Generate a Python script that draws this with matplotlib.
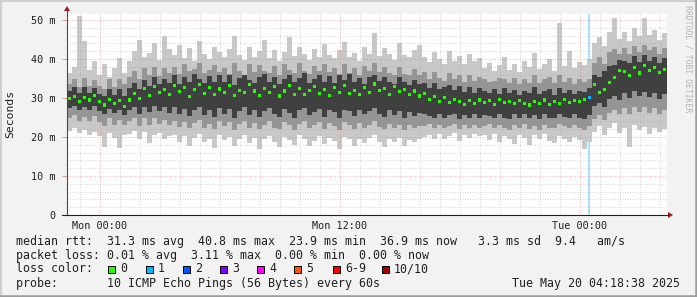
import numpy as np
import matplotlib
matplotlib.use('Agg')
import matplotlib.pyplot as plt
from matplotlib.patches import Rectangle, Polygon
from matplotlib.lines import Line2D

# ---------------- data ----------------
start_h = -1.625      # hours relative to Mon 00:00 at the left edge
step_h = 0.25         # one sample every 15 minutes

median = [29.8, 30.4, 29.2, 30.1, 29.5, 30.6, 29.0, 28.2, 29.6, 28.6,
          29.3, 27.8, 29.5, 31.2, 29.8, 32.4, 30.6, 33.0, 31.4, 32.2,
          30.8, 33.2, 31.6, 32.8, 30.4, 32.1, 33.5, 31.2, 32.6, 30.9,
          32.3, 31.5, 33.1, 30.6, 32.0, 31.4, 33.4, 31.8, 30.7, 32.5,
          31.3, 32.9, 30.5, 31.8, 33.2, 31.0, 32.4, 30.8, 31.9, 33.0,
          31.2, 32.2, 30.6, 32.7, 31.5, 33.3, 31.1, 32.0, 30.9, 32.6,
          31.4, 33.6, 31.9, 32.4, 30.8, 33.0, 31.6, 32.2, 30.9, 31.8,
          30.5, 31.2, 29.6, 30.4, 29.2, 30.1, 28.8, 29.7, 29.0, 28.4,
          29.3, 28.6, 29.5, 28.9, 29.4, 28.3, 29.6, 28.8, 29.2, 28.5,
          29.4, 28.7, 28.2, 29.1, 28.6, 29.5, 28.4, 29.2, 28.7, 29.6,
          28.9, 29.4, 29.1, 29.6, 30.2, 33.5, 31.5, 32.2, 34.0, 35.2,
          37.0, 36.8, 35.7, 37.9, 36.4, 38.3, 37.1, 37.8, 36.6, 37.4]

p_max = [36.5, 38.0, 51.0, 44.5, 37.2, 39.5, 36.0, 38.8, 35.5, 37.6, 40.2, 36.4,
         39.5, 42.0, 45.0, 40.5, 41.5, 44.0, 39.8, 46.0, 42.5,
         41.0, 43.5, 40.2, 42.8, 39.6, 44.5, 41.2, 40.0, 43.0, 41.8,
         40.4, 42.6, 46.0, 41.0, 39.8, 43.2, 40.6, 42.0, 44.8, 40.2,
         42.4, 39.6, 41.8, 45.6, 40.8, 43.0, 41.4, 39.8, 42.6, 40.6,
         43.8, 41.0, 40.2, 42.2, 44.4, 40.6, 41.6, 39.4, 43.2, 41.2,
         46.6, 40.8, 42.8, 41.4, 39.8, 44.0, 41.0, 40.4, 42.4, 43.6,
         40.6, 39.2, 41.8, 40.0, 38.6, 42.0, 39.4, 40.8, 38.8, 41.2, 39.6, 40.2,
         37.6, 39.0, 36.8, 38.4, 40.6, 37.2, 38.8, 36.6, 39.4, 38.0, 41.6,
         37.4, 38.6, 40.0, 37.0, 49.2, 38.2, 42.0, 37.8, 39.2, 38.4,
         40.0,
         44.0, 45.6, 43.4, 47.0, 50.4, 45.2, 46.8, 44.6, 48.0, 45.8, 50.6,
         46.2, 47.4, 45.0, 46.6]

p_hi2 = [33.6, 35.0, 32.8, 35.2, 33.0, 34.6, 33.2, 32.4, 34.8, 32.8, 35.0, 33.6,
         35.4, 36.8, 34.8, 37.6, 36.0, 38.0, 35.6, 37.8, 36.4,
         38.0, 36.2, 38.6, 36.8, 37.4, 39.0, 36.4, 37.2, 38.4, 36.6,
         37.8, 36.2, 39.0, 37.0, 36.0, 38.6, 36.6, 38.4, 37.0, 36.4,
         38.2, 36.0, 38.8, 37.2, 36.4, 39.0, 36.8, 36.2, 38.2, 36.8,
         38.8, 36.6, 37.6, 36.2, 38.6, 36.4, 37.8, 36.0, 38.2, 37.0,
         39.0, 36.6, 38.0, 36.4, 36.0, 38.0, 36.2, 35.8, 37.4, 36.0,
         36.6, 35.0, 36.6, 35.2, 34.4, 36.4, 34.8, 36.0, 34.2, 35.8, 34.4, 35.4,
         34.8, 34.2, 34.4, 35.2, 34.8, 33.8, 35.2, 33.6, 35.0, 33.8, 35.8,
         33.8, 34.8, 35.4, 33.8, 36.0, 34.0, 35.2, 33.6, 35.0, 34.0,
         35.0,
         39.0, 40.4, 38.8, 41.8, 42.6, 41.2, 42.8, 41.2, 43.4, 41.8, 43.6,
         42.2, 43.2, 41.4, 42.8]

p_hi3 = [31.8, 32.8, 31.2, 32.8, 31.4, 32.6, 31.0, 30.6, 32.4, 30.8, 32.2, 30.6,
         32.6, 33.8, 32.4, 34.6, 33.2, 35.4, 33.6, 35.0, 33.8,
         35.8, 33.6, 35.4, 34.0, 36.2, 35.0, 33.8, 35.6, 34.2, 36.0,
         34.0, 35.8, 33.4, 35.2, 36.0, 34.6, 33.8, 35.4, 36.2, 34.2,
         35.4, 33.6, 35.0, 36.0, 34.0, 35.2, 36.4, 33.8, 35.0, 35.8,
         34.0, 35.6, 33.8, 35.8, 34.6, 36.2, 34.0, 35.2, 33.6, 35.4,
         36.0, 34.4, 35.4, 34.0, 33.6, 35.4, 34.0, 33.4, 34.6, 33.6,
         33.8, 32.6, 33.8, 32.4, 32.8, 33.4, 32.0, 33.0, 31.6, 32.8, 31.4, 32.6,
         31.8, 31.4, 32.2, 31.0, 32.6, 31.2, 32.0, 30.8, 31.8, 31.2, 32.8,
         31.0, 31.8, 32.4, 30.8, 32.6, 31.2, 32.0, 31.0, 31.8, 31.6,
         32.6,
         36.0, 35.4, 36.8, 38.2, 38.4, 39.8, 39.6, 39.0, 40.8, 39.2, 41.0,
         39.6, 40.6, 39.0, 40.2]

p_lo3 = [27.4, 28.0, 26.8, 27.8, 27.0, 28.0, 26.6, 26.0, 27.2, 26.2, 27.0, 25.6,
         26.8, 27.6, 25.8, 27.8, 26.4, 28.0, 26.6, 27.6, 26.2,
         27.6, 25.8, 27.2, 25.4, 26.8, 27.8, 25.6, 26.8, 25.2, 27.4,
         26.0, 27.2, 25.0, 26.6, 27.6, 25.6, 26.8, 25.2, 26.6, 27.4,
         25.8, 25.2, 27.2, 26.2, 25.0, 26.8, 27.4, 25.6, 26.4, 27.2,
         25.2, 26.8, 26.4, 25.0, 27.0, 26.6, 25.4, 27.0, 25.8, 26.6,
         27.4, 25.8, 25.2, 26.8, 25.6, 26.6, 25.0, 26.4, 25.4, 26.2,
         25.8, 25.4, 25.0, 26.0, 24.8, 25.6, 26.0, 24.6, 25.6, 24.8, 25.8, 25.0,
         25.6, 25.4, 24.8, 25.8, 25.0, 24.6, 25.8, 25.0, 26.0, 24.8, 25.6,
         24.6, 25.8, 25.0, 24.8, 26.0, 25.2, 24.8, 25.8, 25.0, 24.6,
         25.6,
         28.0, 28.8, 27.8, 29.8, 30.6, 29.6, 31.4, 30.0, 31.8, 30.4, 31.6,
         30.2, 31.4, 29.8, 31.0]

p_lo2 = [24.8, 25.6, 24.2, 25.2, 24.2, 25.4, 23.8, 22.8, 24.8, 23.2, 24.4, 23.0,
         24.0, 24.8, 22.8, 24.8, 23.2, 25.0, 23.4, 24.4, 23.0,
         24.2, 22.6, 23.8, 22.2, 23.6, 24.4, 22.4, 23.4, 22.0, 24.0,
         22.8, 23.8, 21.8, 23.4, 24.2, 22.2, 23.6, 22.0, 23.2, 24.0,
         22.4, 22.0, 23.8, 23.0, 21.8, 23.4, 24.0, 22.2, 23.2, 23.8,
         22.0, 23.6, 22.8, 21.8, 23.8, 23.0, 22.0, 23.6, 22.4, 23.2,
         24.0, 22.6, 22.0, 23.4, 22.4, 23.2, 21.8, 23.0, 22.2, 22.8,
         22.8, 23.4, 22.4, 23.2, 22.2, 22.8, 23.4, 22.0, 23.0, 22.2, 23.2, 22.4,
         22.8, 23.4, 22.2, 23.2, 22.4, 21.8, 23.2, 22.4, 23.4, 22.0, 22.8,
         21.8, 23.2, 22.4, 22.2, 23.4, 22.8, 22.2, 23.2, 22.4, 21.8,
         22.8,
         24.6, 25.6, 24.4, 26.2, 27.0, 25.8, 27.4, 26.0, 27.8, 26.4, 27.6,
         26.2, 27.4, 25.8, 27.0]

p_min = [21.6, 22.2, 21.0, 21.8, 20.6, 21.4, 20.2, 17.4, 21.0, 19.8, 17.2, 20.4,
         20.8, 21.6, 19.6, 21.2, 18.4, 20.6, 21.0, 19.4, 20.2,
         20.6, 18.8, 20.2, 17.6, 19.8, 20.8, 18.6, 19.6, 17.2, 20.4,
         19.2, 20.0, 17.8, 19.6, 20.6, 18.4, 19.8, 17.0, 19.4, 20.2,
         18.6, 17.4, 20.0, 19.2, 18.0, 20.4, 19.6, 17.6, 19.0, 20.2,
         18.2, 19.8, 19.0, 16.8, 20.0, 19.4, 17.8, 19.6, 18.4, 19.8,
         20.4, 18.8, 17.4, 19.6, 18.6, 19.8, 17.6, 19.2, 18.8, 19.6,
         20.0, 20.6, 19.4, 20.8, 19.6, 20.2, 21.0, 19.0, 20.4, 19.8, 20.8, 20.2,
         20.4, 19.2, 20.8, 18.6, 20.2, 19.6, 18.2, 20.6, 19.8, 18.0, 20.4,
         19.4, 20.8, 19.0, 18.4, 20.2, 19.6, 18.8, 20.0, 19.2, 17.0,
         18.6,
         21.4, 22.8, 20.6, 22.2, 23.6, 21.0, 22.4, 17.4, 23.0, 21.8, 22.6,
         20.8, 22.2, 21.2, 22.0]

# packets lost (of 10) per sample
loss = [0] * 104 + [1] + [0] * 15

x_ticks = [0, 12, 24]
x_labels = ['Mon 00:00', 'Mon 12:00', 'Tue 00:00']
y_ticks = [0, 10, 20, 30, 40, 50]
y_labels = ['0', '10 m', '20 m', '30 m', '40 m', '50 m']

legend_rtt = 'median rtt:  31.3 ms avg  40.8 ms max  23.9 ms min  36.9 ms now   3.3 ms sd  9.4   am/s'
legend_loss = 'packet loss: 0.01 % avg  3.11 % max  0.00 % min  0.00 % now'
legend_probe = 'probe:       10 ICMP Echo Pings (56 Bytes) every 60s'
timestamp = 'Tue May 20 04:18:38 2025'
loss_labels = ['0', '1', '2', '3', '4', '5', '6-9', '10/10']
loss_colors = ['#26ff00', '#00b8ff', '#0059ff', '#7e00ff', '#ff00ff', '#ff5500', '#ff0000', '#a10000']

# ---------------- drawing ----------------
W, H = 697, 297
MONO = 'DejaVu Sans Mono'
fig = plt.figure(figsize=(W / 100, H / 100), dpi=100, facecolor='#f2f2f2')

def fx(px):
    return px / W

def fy(py):
    return 1 - py / H

ax = fig.add_axes([fx(67), fy(215), 600 / W, 201 / H], facecolor='white')
n = len(median)
t = start_h + step_h * np.arange(n)
t_edges = np.append(t, t[-1] + step_h)

def ext(a):
    a = np.asarray(a, dtype=float)
    return np.append(a, a[-1])

# loss background
for ti, l in zip(t, loss):
    if l > 0:
        ax.axvspan(ti + 0.05, ti + 0.15, color='#a8e2f8', lw=0, zorder=1)

# smoke
ax.fill_between(t_edges, ext(p_min), ext(p_max), step='post', color='#c8c8c8', lw=0, zorder=2)
ax.fill_between(t_edges, ext(p_lo2), ext(p_hi2), step='post', color='#959595', lw=0, zorder=3)
ax.fill_between(t_edges, ext(p_lo3), ext(p_hi3), step='post', color='#404040', lw=0, zorder=4)

# median markers coloured by loss
med_cols = [loss_colors[min(l, 6) if l < 10 else 7] for l in loss]
ax.scatter(t + step_h / 2, median, s=5, marker='s', c=med_cols, lw=0, zorder=9)

ax.set_xlim(start_h, start_h + 30)
ax.set_ylim(0, 201 / 3.9)

# grid on top (dotted, semi-transparent)
ax.set_yticks(y_ticks)
ax.set_yticklabels(y_labels)
ax.set_yticks(np.arange(2, 51, 2), minor=True)
ax.set_xticks(x_ticks)
ax.set_xticklabels(x_labels)
ax.set_xticks(np.arange(-1, 29, 1), minor=True)
ax.grid(which='minor', color='#a8a8a8', alpha=0.45, ls=(0, (1, 1.5)), lw=0.72, zorder=7)
ax.grid(which='major', color='#e07070', alpha=0.5, ls=(0, (1, 1.5)), lw=0.72, zorder=8)
ax.set_axisbelow(False)
for s in ax.spines.values():
    s.set_visible(False)
ax.tick_params(axis='y', which='major', length=3.5, width=0.7, color='#e09a9a', pad=5,
               labelsize=7.3, labelfontfamily=MONO, labelcolor='#202020')
ax.tick_params(axis='x', which='major', length=0, pad=4.5,
               labelsize=7.3, labelfontfamily=MONO, labelcolor='#202020')
ax.tick_params(which='minor', length=0)

# axis lines and arrows
fig.add_artist(Line2D([fx(67), fx(67)], [fy(215), fy(10)], color='#4a4a4a', lw=0.8))
fig.add_artist(Line2D([fx(62), fx(668)], [fy(215), fy(215)], color='#202020', lw=0.8))
fig.add_artist(Polygon([[fx(64), fy(11)], [fx(70), fy(11)], [fx(67), fy(6)]], closed=True,
                       color='#9a1a1a', lw=0))
fig.add_artist(Polygon([[fx(668), fy(212)], [fx(668), fy(218)], [fx(673), fy(215)]], closed=True,
                       color='#9a1a1a', lw=0))

# axis title and watermark
fig.text(fx(10), fy(114), 'Seconds', rotation=90, family=MONO, fontsize=8.2,
         ha='center', va='center', color='#202020')
fig.text(fx(688), fy(5), 'RRDTOOL / TOBI OETIKER', rotation=-90, family=MONO, fontsize=5.9,
         ha='center', va='top', color='#b4b4b4')

# legend
LFS = 8.4
fig.text(fx(16), fy(241), legend_rtt, family=MONO, fontsize=LFS, va='center', ha='left', color='#202020')
fig.text(fx(16), fy(255.5), legend_loss, family=MONO, fontsize=LFS, va='center', ha='left', color='#202020')
fig.text(fx(16), fy(269), 'loss color:', family=MONO, fontsize=LFS, va='center', ha='left', color='#202020')
fig.text(fx(16), fy(283), legend_probe, family=MONO, fontsize=LFS, va='center', ha='left', color='#202020')
fig.text(fx(680), fy(283), timestamp, family=MONO, fontsize=LFS, va='center', ha='right', color='#202020')

box_x = [108, 145.5, 182.5, 219.5, 256.5, 293.5, 333, 381.5]
for bx, lab, col in zip(box_x, loss_labels, loss_colors):
    fig.add_artist(Rectangle((fx(bx), fy(272.5)), 7 / W, 7 / H, facecolor=col,
                             edgecolor='#000000', lw=0.7))
    fig.text(fx(bx + 12.5), fy(269), lab, family=MONO, fontsize=LFS, va='center', ha='left',
             color='#202020')

# 3D frame
fig.add_artist(Line2D([0, 1], [fy(0.5), fy(0.5)], color='#cfcfcf', lw=1.5))
fig.add_artist(Line2D([fx(0.5), fx(0.5)], [0, 1], color='#cfcfcf', lw=1.5))
fig.add_artist(Line2D([0, 1], [fy(296), fy(296)], color='#9e9e9e', lw=1.8))
fig.add_artist(Line2D([fx(696), fx(696)], [0, 1], color='#9e9e9e', lw=1.8))

fig.savefig('out.png', dpi=100, facecolor=fig.get_facecolor())
